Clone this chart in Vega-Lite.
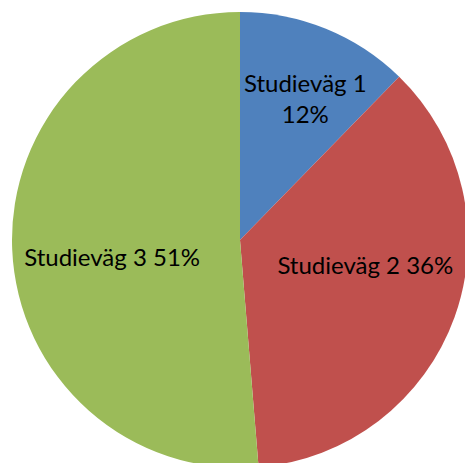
{
  "$schema": "https://vega.github.io/schema/vega-lite/v6.json",
  "width": 480,
  "height": 480,
  "padding": 0,
  "autosize": {"type": "none"},
  "background": "white",
  "config": {"view": {"stroke": null}},
  "data": {
    "values": [
      {"category": "Studieväg 1", "value": 12.3, "label": "Studieväg 1\n12%"},
      {"category": "Studieväg 2", "value": 36.4, "label": "Studieväg 2 36%"},
      {"category": "Studieväg 3", "value": 51.3, "label": "Studieväg 3 51%"}
    ]
  },
  "encoding": {
    "theta": {"field": "value", "type": "quantitative", "stack": true, "scale": {"domain": [0, 100]}},
    "order": {"field": "category", "type": "nominal"}
  },
  "layer": [
    {
      "mark": {"type": "arc", "outerRadius": 228},
      "encoding": {
        "color": {
          "field": "category",
          "type": "nominal",
          "scale": {"domain": ["Studieväg 1", "Studieväg 2", "Studieväg 3"], "range": ["#4F81BD", "#C0504D", "#9BBB59"]},
          "legend": null
        }
      }
    },
    {
      "mark": {"type": "text", "radius": 152, "dx": 8, "dy": -14, "font": "Lato", "fontSize": 24, "color": "black", "align": "center", "baseline": "middle", "lineBreak": "\n", "lineHeight": 31},
      "encoding": {
        "text": {"condition": {"test": "datum.category === 'Studieväg 1'", "field": "label"}, "value": ""}
      }
    },
    {
      "mark": {"type": "text", "radius": 130, "dx": 3, "dy": -17, "font": "Lato", "fontSize": 24, "color": "black", "align": "center", "baseline": "middle"},
      "encoding": {
        "text": {"condition": {"test": "datum.category === 'Studieväg 2'", "field": "label"}, "value": ""}
      }
    },
    {
      "mark": {"type": "text", "radius": 128, "dy": 14, "font": "Lato", "fontSize": 24, "color": "black", "align": "center", "baseline": "middle"},
      "encoding": {
        "text": {"condition": {"test": "datum.category === 'Studieväg 3'", "field": "label"}, "value": ""}
      }
    }
  ]
}
